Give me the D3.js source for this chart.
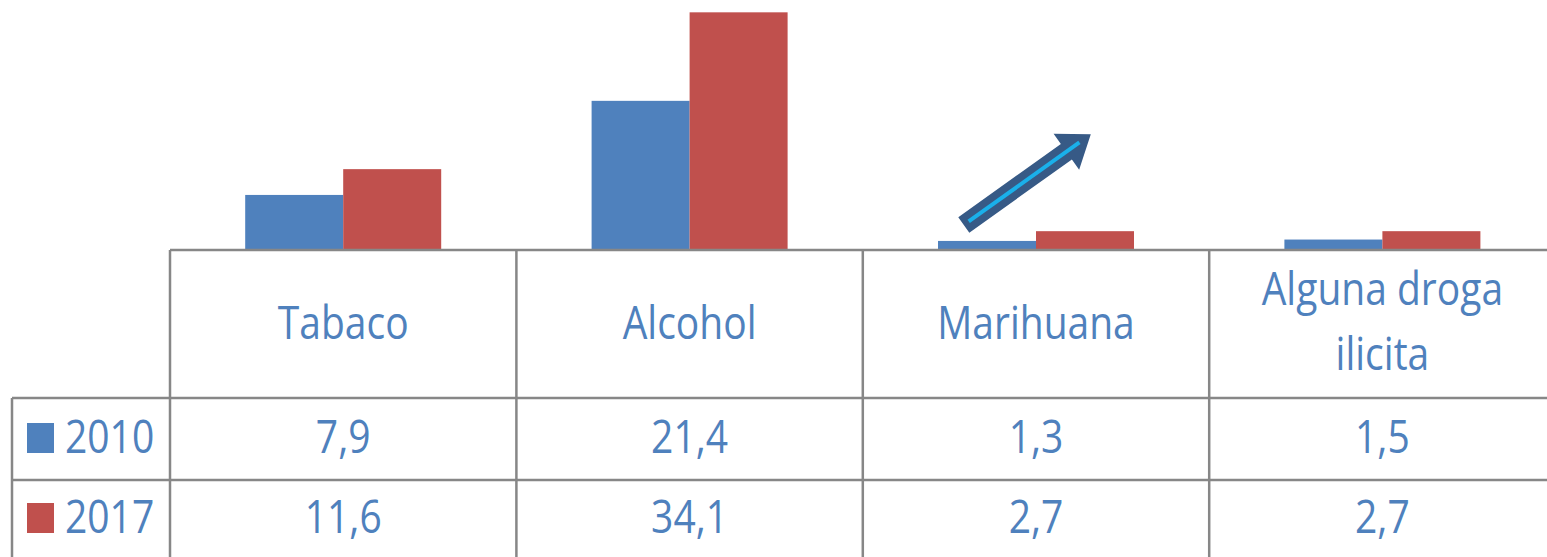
<!DOCTYPE html>
<head>
<meta charset="utf-8">
<title>Consumo</title>
<script src="https://d3js.org/d3.v7.min.js"></script>
<style>
  body { margin: 0; background: #fff; }
  svg { display: block; }
  text { font-family: "Open Sans", sans-serif; fill: #4F81BD; }
</style>
</head>
<body>
<div id="chart"></div>
<script>
var categories = ["Tabaco", "Alcohol", "Marihuana", "Alguna droga ilicita"];
var headerLines = [["Tabaco"], ["Alcohol"], ["Marihuana"], ["Alguna droga", "ilicita"]];
var series = ["2010", "2017"];
var values2010 = [7.9, 21.4, 1.3, 1.5];
var values2017 = [11.6, 34.1, 2.7, 2.7];
var valueLabels2010 = ["7,9", "21,4", "1,3", "1,5"];
var valueLabels2017 = ["11,6", "34,1", "2,7", "2,7"];
var colors = ["#4F81BD", "#C0504D"];

var W = 1547, H = 557;
var base = 250, left = 170, colW = 346.4;
var rowHead = 398, row1 = 480, legendLeft = 12;

var svg = d3.select("#chart").append("svg")
  .attr("width", W).attr("height", H);

var x = d3.scaleBand()
  .domain(categories)
  .range([left, left + colW * categories.length]);

var xs = d3.scaleBand()
  .domain(series)
  .range([0, 196]);

var y = d3.scaleLinear()
  .domain([0, 40])
  .range([base, base - 40 * 6.97]);

var seriesData = [values2010, values2017];

// bars
series.forEach(function(s, si) {
  svg.selectAll(".bar" + si)
    .data(categories)
    .enter()
    .append("rect")
      .attr("x", function(d) { return x(d) + x.bandwidth() / 2 - 98 + xs(s); })
      .attr("y", function(d, i) { return y(seriesData[si][i]); })
      .attr("width", xs.bandwidth())
      .attr("height", function(d, i) { return base - y(seriesData[si][i]); })
      .attr("fill", colors[si]);
});

// table grid
var grid = svg.append("g")
  .style("stroke", "#878787")
  .style("stroke-width", 2.5)
  .style("fill", "none");

grid.append("line").attr("x1", left).attr("x2", W).attr("y1", base).attr("y2", base);
grid.append("line").attr("x1", legendLeft).attr("x2", W).attr("y1", rowHead).attr("y2", rowHead);
grid.append("line").attr("x1", legendLeft).attr("x2", W).attr("y1", row1).attr("y2", row1);
grid.append("line").attr("x1", legendLeft).attr("x2", legendLeft).attr("y1", rowHead).attr("y2", H);
categories.forEach(function(c) {
  grid.append("line").attr("x1", x(c)).attr("x2", x(c)).attr("y1", base).attr("y2", H);
});

// tall text like the original font
function label(px, py, txt, anchor) {
  return svg.append("text")
    .attr("transform", "translate(" + px + "," + py + ") scale(1,1.15)")
    .attr("text-anchor", anchor || "middle")
    .style("font-size", "39px")
    .text(txt);
}

// headers
categories.forEach(function(c, i) {
  var lines = headerLines[i];
  lines.forEach(function(l, li) {
    label(x(c) + x.bandwidth() / 2, lines.length === 1 ? 339 : 305 + li * 65, l);
  });
});

// values + legend
var labelRows = [valueLabels2010, valueLabels2017];
var rowBase = [453, 533];
labelRows.forEach(function(row, ri) {
  row.forEach(function(d, i) {
    label(x(categories[i]) + x.bandwidth() / 2, rowBase[ri], d);
  });
  svg.append("rect")
    .attr("x", 27).attr("y", rowBase[ri] - 30)
    .attr("width", 27).attr("height", 30)
    .attr("fill", colors[ri]);
  label(65, rowBase[ri], series[ri], "start");
});

// arrow annotation above Marihuana
var ax0 = x("Marihuana") + 101, ay0 = y(3.6);
var ax1 = x("Marihuana") + 228, ay1 = y(16.6);
var ang = Math.atan2(ay1 - ay0, ax1 - ax0);
var len = Math.hypot(ax1 - ax0, ay1 - ay0);
var arrow = svg.append("g")
  .attr("transform", "translate(" + ax0 + "," + ay0 + ") rotate(" + (ang * 180 / Math.PI) + ")");
arrow.append("path")
  .attr("d", "M0,-9.5 L" + (len - 30) + ",-9.5 L" + (len - 30) + ",-22 L" + len + ",0 L" + (len - 30) + ",22 L" + (len - 30) + ",9.5 L0,9.5 Z")
  .attr("fill", "#375A86");
arrow.append("line")
  .attr("x1", 6).attr("y1", 0).attr("x2", len - 14).attr("y2", 0)
  .style("stroke", "#1AB0EA")
  .style("stroke-width", 4);
</script>
</body>
